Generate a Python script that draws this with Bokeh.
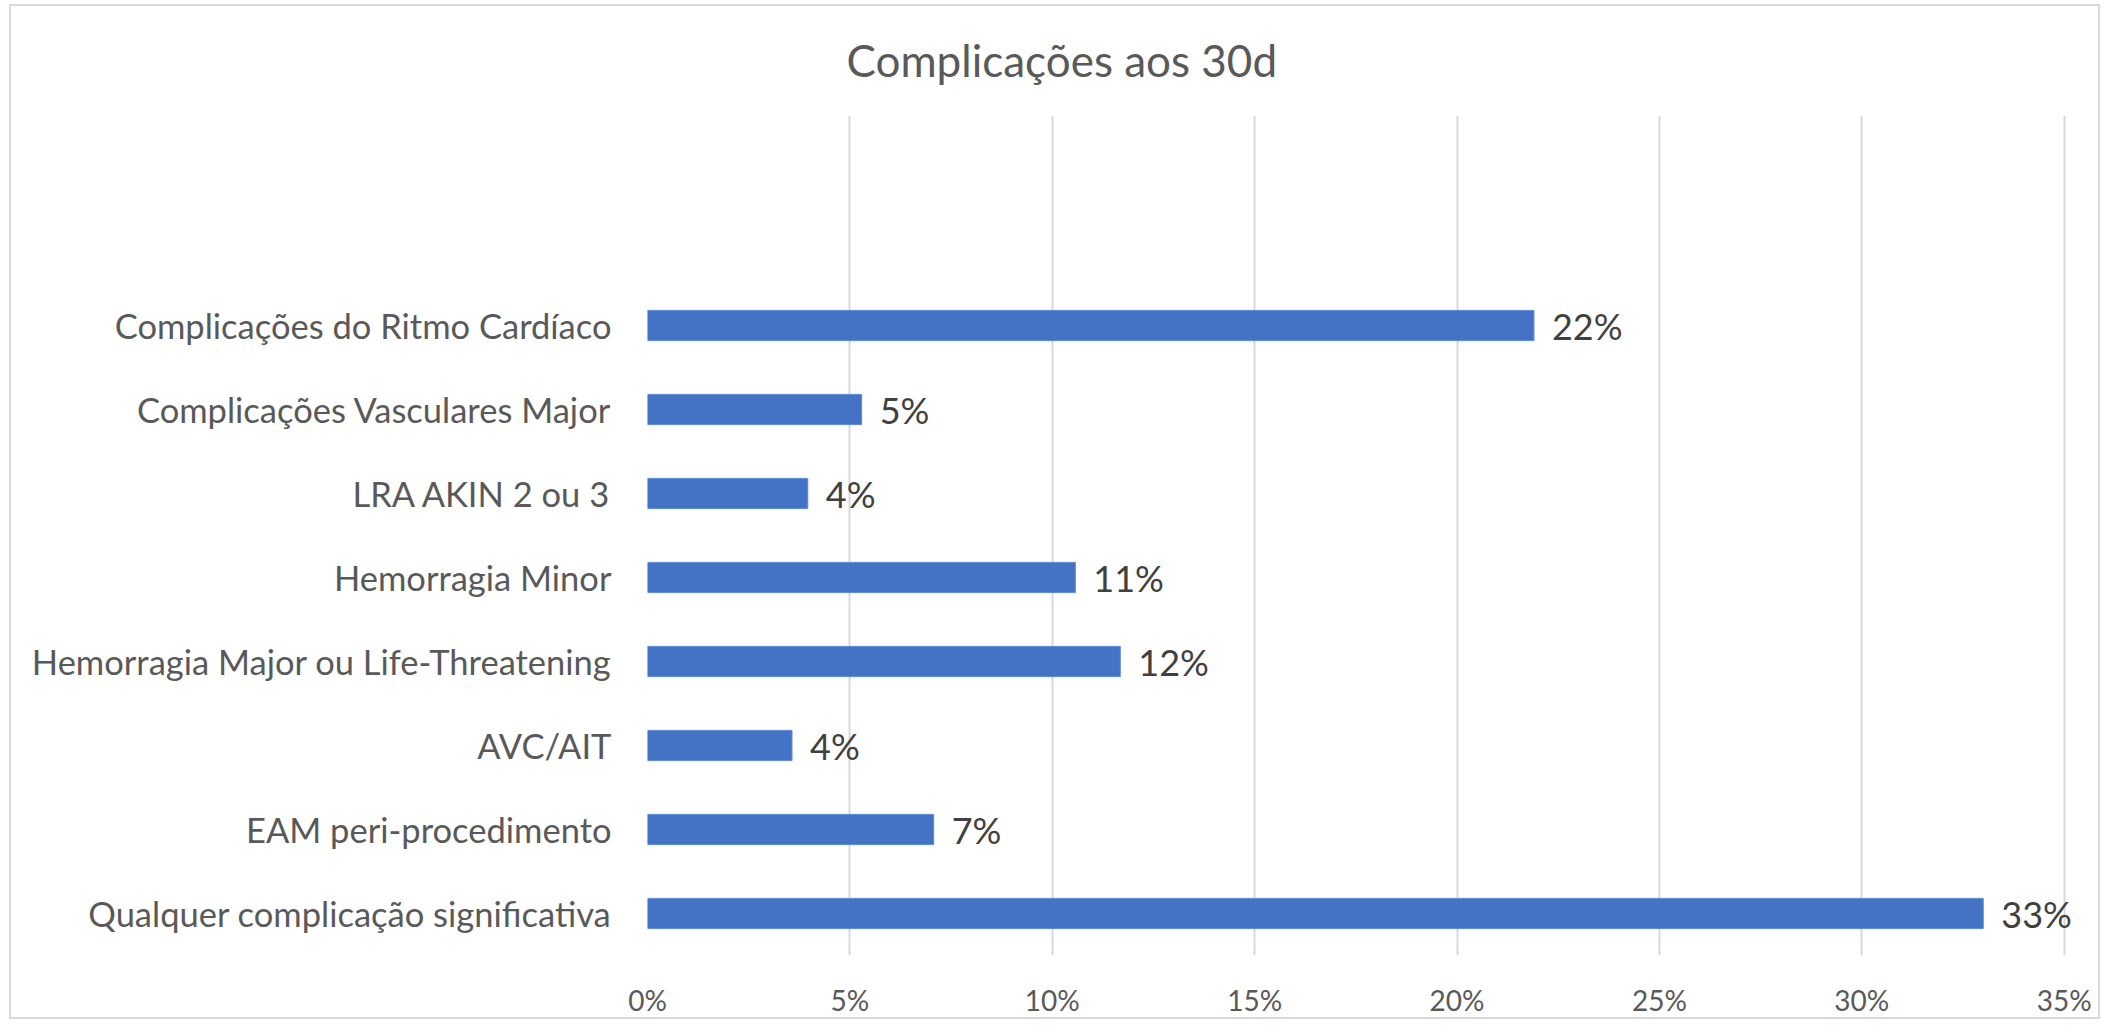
from bokeh.plotting import figure
from bokeh.models import Range1d, FixedTicker, ColumnDataSource, LabelSet
from bokeh.core.properties import value
from bokeh.embed import file_html
from bokeh.resources import INLINE

# ---- data (bottom to top) ----
categories = [
    "Qualquer complicação significativa",
    "EAM peri-procedimento",
    "AVC/AIT",
    "Hemorragia Major ou Life-Threatening",
    "Hemorragia Minor",
    "LRA AKIN 2 ou 3",
    "Complicações Vasculares Major",
    "Complicações do Ritmo Cardíaco",
]
values = [33.0, 7.07, 3.57, 11.68, 10.57, 3.96, 5.29, 21.9]
x_ticks = [0, 5, 10, 15, 20, 25, 30, 35]
x_tick_labels = ["0%", "5%", "10%", "15%", "20%", "25%", "30%", "35%"]
title_text = "Complicações aos 30d"

FONT = "Lato"
W, H = 2102, 1019

positions = list(range(len(categories)))
labels = [f"{round(v)}%" for v in values]

# frame: left 647, top 115, bottom 960; 35% at x=2064 (range extended to 35.6)
p = figure(width=W, height=H, output_backend="svg", toolbar_location=None,
           x_range=Range1d(0, 35.6), y_range=Range1d(-0.5, 9.5),
           min_border_left=647, min_border_right=W - 2088,
           min_border_top=115, min_border_bottom=H - 960)
p.outline_line_color = None
p.background_fill_color = "white"
p.border_fill_color = None

# light grey chart-area border drawn as CSS background lines behind the canvas
G = "linear-gradient(#D9D9D9, #D9D9D9)"
p.styles = {
    "background-color": "white",
    "background-image": ", ".join([G] * 4),
    "background-size": f"2px {H - 5}px, {W - 11}px 2px, 2px {H - 5}px, {W - 11}px 2px",
    "background-position": f"9px 4px, 9px 4px, {W - 4}px 4px, 9px {H - 2}px",
    "background-repeat": "no-repeat",
}

# title
p.title.text = title_text
p.title.align = "left"
p.title.offset = 199
p.title.standoff = 60
p.title.text_font = FONT
p.title.text_font_size = "44px"
p.title.text_font_style = "normal"
p.title.text_color = "#595959"

src = ColumnDataSource(dict(y=positions, v=values, lab=labels))
p.hbar(y="y", right="v", left=0, height=0.36, source=src,
       fill_color="#4472C4", line_color="#5B8BD8", line_width=1)

ls = LabelSet(x="v", y="y", text="lab", source=src, x_offset=18,
              text_baseline="middle", text_align="left",
              text_font=value(FONT), text_font_size=value("36px"),
              text_color=value("#404040"))
p.add_layout(ls)

# x axis
p.xaxis.ticker = FixedTicker(ticks=x_ticks)
p.xaxis.major_label_overrides = {t: l for t, l in zip(x_ticks, x_tick_labels)}
p.xaxis.axis_line_color = None
p.xaxis.major_tick_line_color = None
p.xaxis.minor_tick_line_color = None
p.xaxis.major_label_text_font = FONT
p.xaxis.major_label_text_font_size = "28px"
p.xaxis.major_label_text_color = "#595959"
p.xaxis.major_label_standoff = 21

# y axis
p.yaxis.ticker = FixedTicker(ticks=positions)
p.yaxis.major_label_overrides = {i: c for i, c in zip(positions, categories)}
p.yaxis.axis_line_color = None
p.yaxis.major_tick_line_color = None
p.yaxis.minor_tick_line_color = None
p.yaxis.major_label_text_font = FONT
p.yaxis.major_label_text_font_size = "34.5px"
p.yaxis.major_label_text_color = "#595959"
p.yaxis.major_label_standoff = 30

p.xgrid.grid_line_color = "#D9D9D9"
p.xgrid.grid_line_width = 2
p.ygrid.grid_line_color = None

open("out.html", "w").write(file_html(p, INLINE))
